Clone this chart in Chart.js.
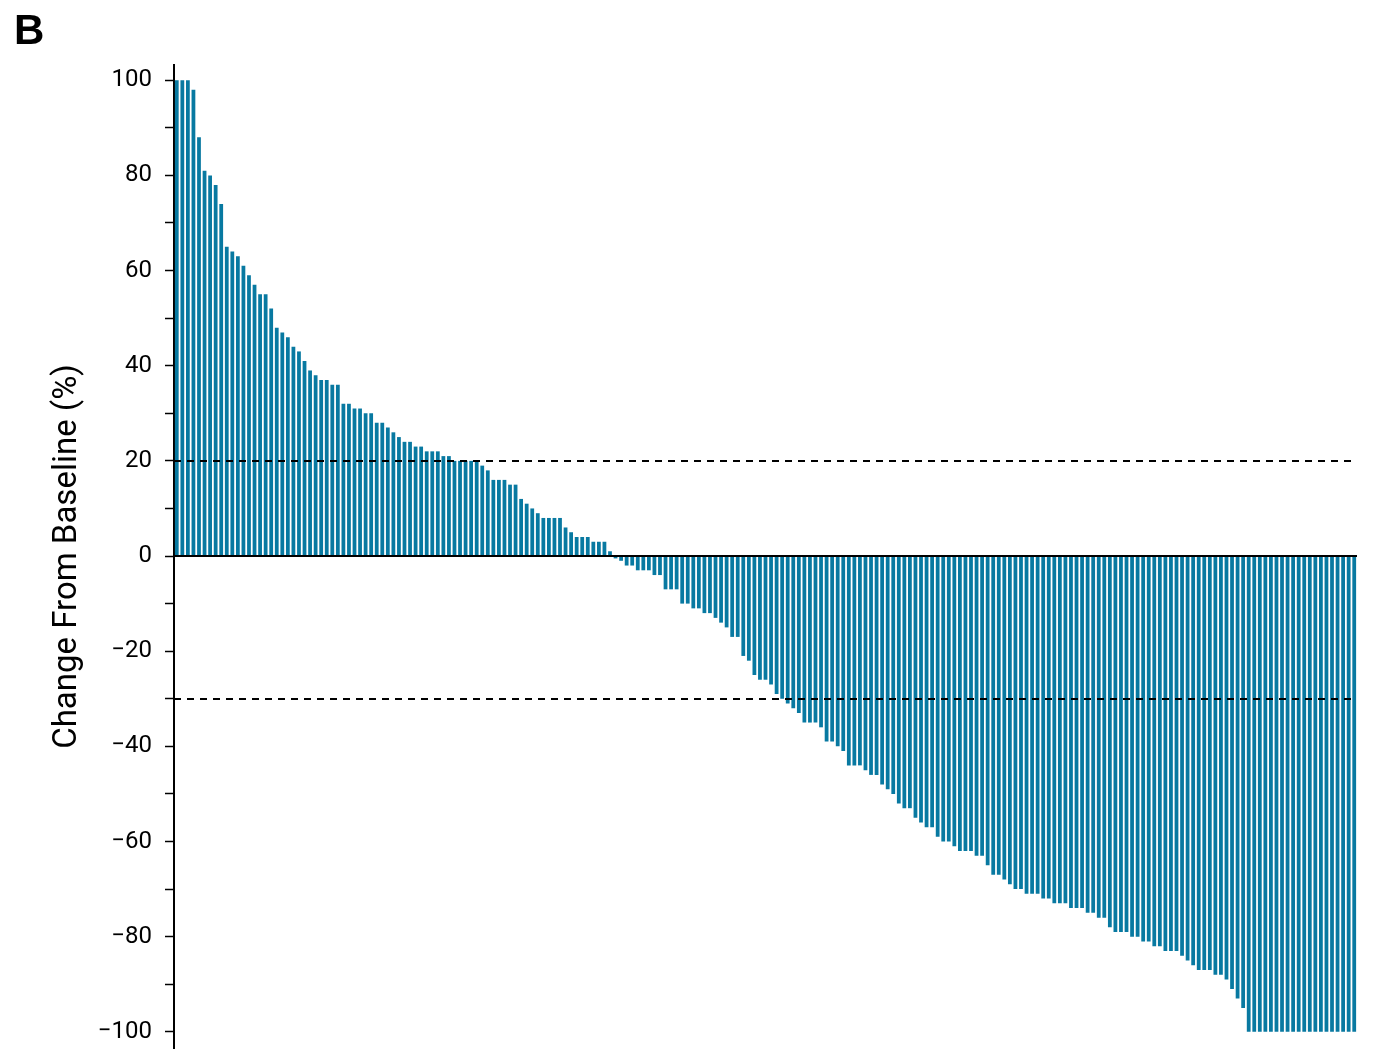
<html>
<head>
    <meta charset="utf-8">
    <script src="https://cdn.jsdelivr.net/npm/chart.js@4/dist/chart.umd.min.js"></script>
    <style>
        body { margin: 0; background: #fff; }
        #wrap { position: relative; width: 1374px; height: 1062px; }
        #panel { position: absolute; left: 14px; top: 6px; font: bold 42px "Liberation Sans", Arial, sans-serif; color: #000; }
    </style>
</head>
<body>
<div id="wrap">
    <canvas id="waterfallChart" width="1374" height="1062"></canvas>
    <div id="panel">B</div>
</div>

<script type="text/javascript">
    // change from baseline (%) per patient, sorted
    const changeValues = [
        100, 100, 100, 98, 88, 81, 80, 78, 74, 65,
        64, 63, 61, 59, 57, 55, 55, 52, 48, 47,
        46, 44, 43, 41, 39, 38, 37, 37, 36, 36,
        32, 32, 31, 31, 30, 30, 28, 28, 27, 26,
        25, 24, 24, 23, 23, 22, 22, 22, 21, 21,
        20, 20, 20, 20, 20, 19, 18, 16, 16, 16,
        15, 15, 12, 11, 10, 9, 8, 8, 8, 8,
        6, 5, 4, 4, 4, 3, 3, 3, 1, -0.5,
        -1, -2, -2, -3, -3, -3, -4, -4, -7, -7,
        -7, -10, -10, -11, -11, -12, -12, -13, -14, -15,
        -17, -17, -21, -22, -25, -26, -26, -27, -29, -30,
        -31, -32, -33, -35, -35, -35, -36, -39, -39, -40,
        -41, -44, -44, -44, -45, -46, -46, -48, -49, -50,
        -52, -53, -53, -55, -56, -57, -57, -59, -60, -60,
        -61, -62, -62, -62, -63, -63, -65, -67, -67, -68,
        -69, -70, -70, -71, -71, -71, -72, -72, -73, -73,
        -73, -74, -74, -74, -75, -75, -76, -76, -78, -79,
        -79, -79, -80, -80, -81, -81, -82, -82, -83, -83,
        -83, -84, -85, -86, -87, -87, -87, -88, -88, -89,
        -91, -93, -95, -100, -100, -100, -100, -100, -100, -100,
        -100, -100, -100, -100, -100, -100, -100, -100, -100, -100,
        -100, -100, -100
    ];
    const patientLabels = changeValues.map((v, i) => String(i + 1));
    const yTicks = [-100, -90, -80, -70, -60, -50, -40, -30, -20, -10, 0,
                    10, 20, 30, 40, 50, 60, 70, 80, 90, 100];
    const thresholds = [20, -30];

    // zero line and dashed response thresholds
    const refLines = {
        id: 'refLines',
        afterDatasetsDraw(chart) {
            const ctx = chart.ctx;
            const area = chart.chartArea;
            const y = chart.scales.y;
            ctx.save();
            ctx.strokeStyle = '#000';
            ctx.lineWidth = 2;
            ctx.setLineDash([7, 6]);
            thresholds.forEach(t => {
                const py = Math.round(y.getPixelForValue(t));
                ctx.beginPath();
                ctx.moveTo(area.left, py);
                ctx.lineTo(area.right - 5, py);
                ctx.stroke();
            });
            ctx.setLineDash([]);
            const zy = Math.round(y.getPixelForValue(0));
            ctx.beginPath();
            ctx.moveTo(area.left, zy);
            ctx.lineTo(area.right, zy);
            ctx.stroke();
            ctx.restore();
        }
    };

    const waterfallChart = document.getElementById('waterfallChart');
    new Chart(waterfallChart, {
        type: 'bar',
        data: {
            labels: patientLabels,
            datasets: [{
                data: changeValues,
                backgroundColor: '#0879a1',
                borderWidth: 0,
                barPercentage: 0.68,
                categoryPercentage: 1.0
            }]
        },
        options: {
            responsive: false,
            animation: false,
            layout: { padding: { left: 0, top: 65, right: 17, bottom: 14 } },
            plugins: {
                legend: { display: false },
                tooltip: { enabled: false }
            },
            scales: {
                x: { display: false },
                y: {
                    min: -103.4,
                    max: 103.2,
                    afterBuildTicks: scale => {
                        scale.ticks = yTicks.map(v => ({ value: v }));
                    },
                    afterFit: scale => {
                        scale.width = 174;
                        scale.paddingTop = 0;
                        scale.paddingBottom = 0;
                    },
                    ticks: {
                        autoSkip: false,
                        padding: 13,
                        color: '#000',
                        font: { family: 'Roboto', size: 24 },
                        callback: v => (v % 20 === 0 ? (v < 0 ? '\u2212' + Math.abs(v) : String(v)) : '')
                    },
                    grid: {
                        drawOnChartArea: false,
                        drawTicks: true,
                        tickLength: 9,
                        tickWidth: 1.5,
                        tickColor: '#000'
                    },
                    border: { display: true, color: '#000', width: 2 },
                    title: {
                        display: true,
                        text: 'Change From Baseline (%)',
                        color: '#000',
                        font: { family: 'Roboto', size: 33 },
                        padding: { top: 48, bottom: 0 }
                    }
                }
            }
        },
        plugins: [refLines]
    });
</script>
</body>
</html>
